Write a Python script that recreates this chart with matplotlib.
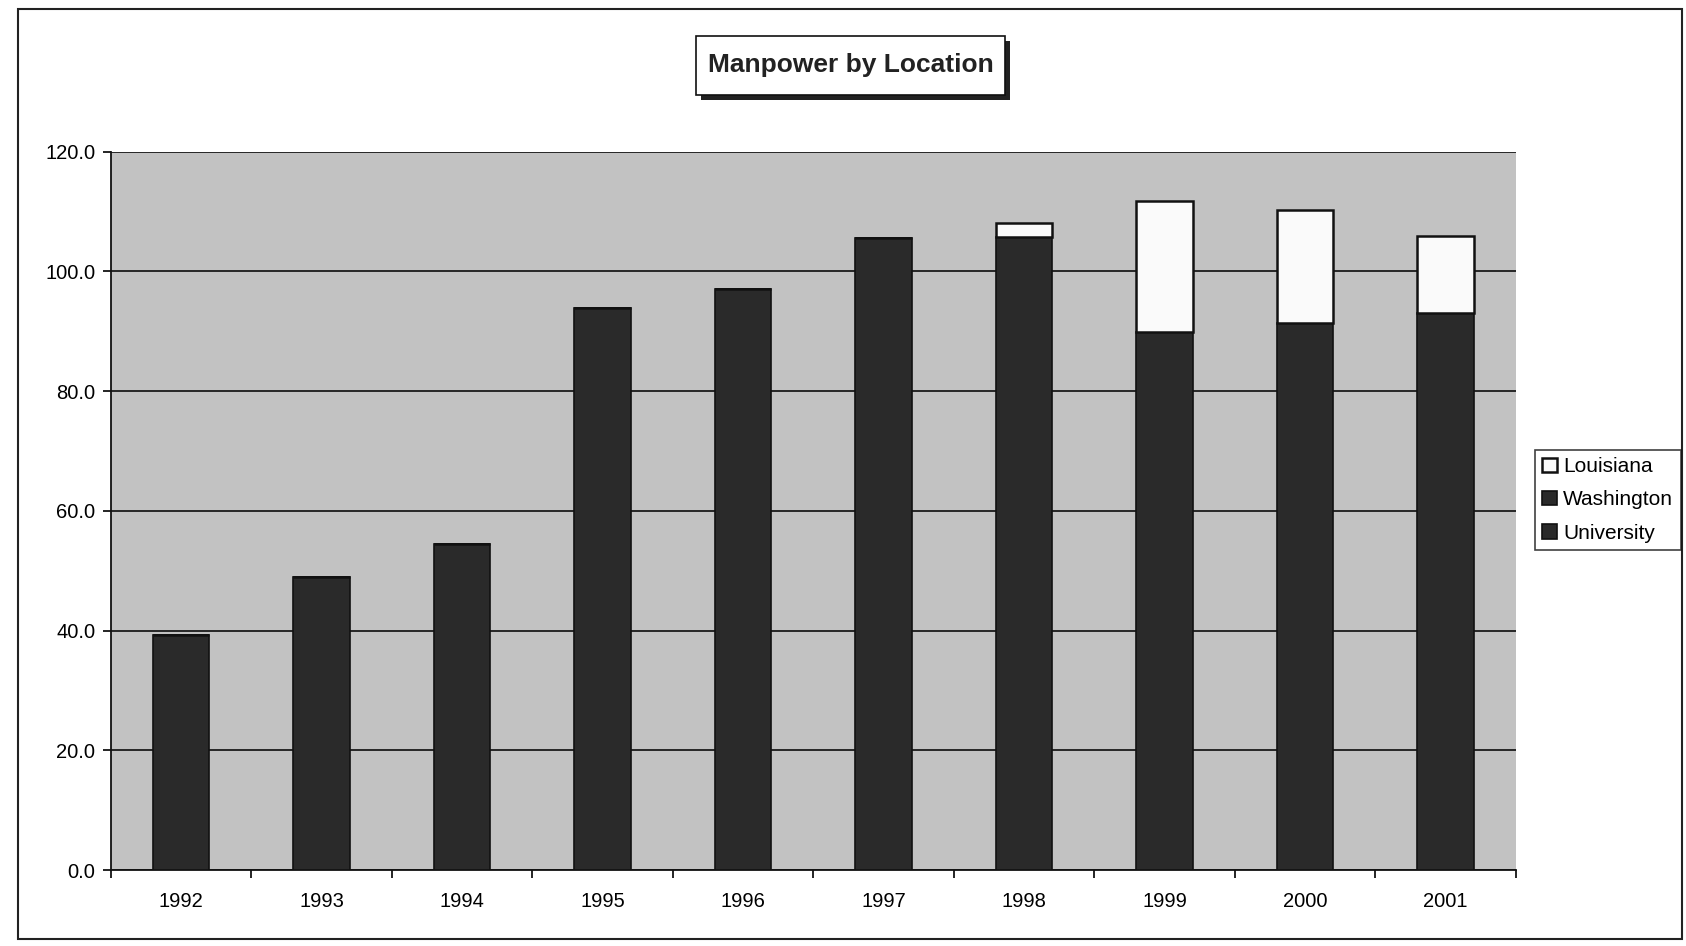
import matplotlib
matplotlib.use("Agg")
import matplotlib.pyplot as plt
from matplotlib.patches import Rectangle
import numpy as np

years = ["1992", "1993", "1994", "1995", "1996", "1997", "1998", "1999", "2000", "2001"]
university = [39.3, 49.0, 54.4, 93.8, 97.0, 105.6, 105.8, 89.9, 91.4, 93.0]
washington = [0, 0, 0, 0, 0, 0, 0, 0, 0, 0]
louisiana = [0, 0, 0, 0, 0, 0, 2.3, 21.9, 18.8, 12.9]
yticks = [0, 20, 40, 60, 80, 100, 120]

plt.rcParams['font.family'] = ['Liberation Sans', 'DejaVu Sans']

fig = plt.figure(figsize=(16.86, 9.46), dpi=100)
ax = fig.add_axes([0.0657, 0.0803, 0.8333, 0.7594])
ax.set_facecolor('#c2c2c2')

x = np.arange(len(years))
w = 0.40
uni = np.array(university)
wash = np.array(washington)
lou = np.array(louisiana)
b1 = ax.bar(x, uni, w, color='#2a2a2a', edgecolor='#111111', linewidth=1.2, label='University', zorder=3)
b2 = ax.bar(x, wash, w, bottom=uni, color='#2a2a2a', edgecolor='#111111', linewidth=1.2, label='Washington', zorder=3)
b3 = ax.bar(x, lou, w, bottom=uni + wash, color='#fafafa', edgecolor='#111111', linewidth=1.8, label='Louisiana', zorder=3)

ax.set_xlim(-0.5, len(years) - 0.5)
ax.set_ylim(0, 120)
ax.set_yticks(yticks)
ax.set_yticklabels([f"{v:.1f}" for v in yticks], fontsize=14.5)
ax.set_xticks(x)
ax.set_xticklabels(years, fontsize=14.5)
ax.set_xticks(np.arange(-0.5, len(years), 1.0), minor=True)
ax.tick_params(axis='x', which='major', length=0, pad=16)
ax.tick_params(axis='x', which='minor', length=6, width=1.2, direction='out')
ax.tick_params(axis='y', which='major', length=6, width=1.2, direction='out', pad=5)
ax.yaxis.grid(True, color='#1a1a1a', linewidth=1.3, zorder=1)
ax.set_axisbelow(True)
for s in ['top', 'right']:
    ax.spines[s].set_visible(False)
for s in ['left', 'bottom']:
    ax.spines[s].set_linewidth(1.3)
    ax.spines[s].set_color('#111111')

# legend
handles = [b3, b2, b1]
leg = fig.legend(handles, ['Louisiana', 'Washington', 'University'],
                 loc='center left', bbox_to_anchor=(0.9105, 0.4715),
                 fontsize=15, frameon=True, fancybox=False, edgecolor='#111111',
                 handlelength=0.7, handleheight=0.7, handletextpad=0.3,
                 borderpad=0.35, labelspacing=0.68, borderaxespad=0)
leg.get_frame().set_linewidth(1.2)

# title box with shadow
bx0, by0, bw, bh = 696 / 1686, 1 - 94.6 / 946, 309 / 1686, 59 / 946
fig.patches.append(Rectangle((bx0 + 5 / 1686, by0 - 5 / 946), bw, bh, transform=fig.transFigure,
                             facecolor='#222222', edgecolor='none', zorder=5))
fig.patches.append(Rectangle((bx0, by0), bw, bh, transform=fig.transFigure,
                             facecolor='white', edgecolor='#111111', linewidth=1.2, zorder=6))
fig.text(bx0 + bw / 2, by0 + bh / 2, 'Manpower by Location', ha='center', va='center',
         fontsize=19, fontweight='bold', color='#222222', zorder=7)

# outer border
fig.patches.append(Rectangle((18 / 1686, 7 / 946), 1664 / 1686, 930 / 946, transform=fig.transFigure,
                             facecolor='none', edgecolor='#222222', linewidth=1.5, zorder=0))

fig.savefig('out.png', dpi=100, facecolor='white')
